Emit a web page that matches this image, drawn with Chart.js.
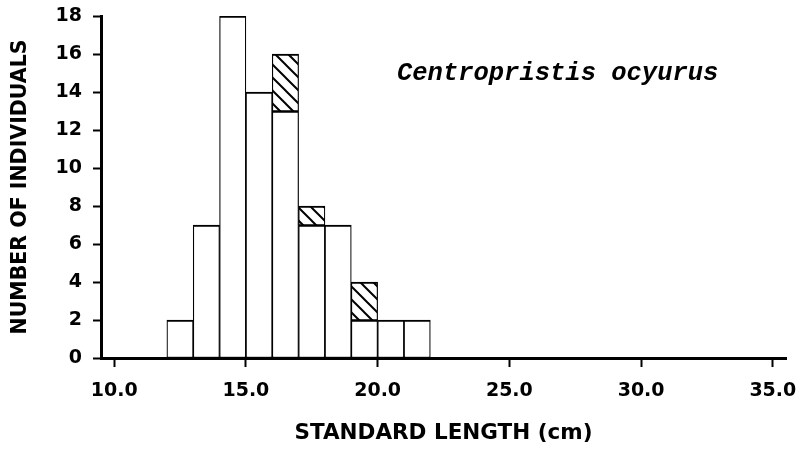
<!DOCTYPE html>
<html>
<head>
<meta charset="utf-8">
<script src="https://cdn.jsdelivr.net/npm/chart.js@4.4.1/dist/chart.umd.min.js"></script>
<style>
html, body { margin: 0; background: #fff; }
</style>
</head>
<body>
<canvas id="chart" width="800" height="450"></canvas>
<script>
// histogram bins (lower edge, cm) and counts
const binStarts = [12, 13, 14, 15, 16, 17, 18, 19, 20, 21];
const plainCounts = [2, 7, 18, 14, 13, 7, 7, 2, 2, 2];
const hatchedCounts = [0, 0, 0, 0, 3, 1, 0, 2, 0, 0];
const xTicks = [10, 15, 20, 25, 30, 35];
const yTicks = [0, 2, 4, 6, 8, 10, 12, 14, 16, 18];
const speciesName = 'Centropristis ocyurus';

const tickFont = { family: 'DejaVu Sans', weight: 'bold', size: 19 };

function makeHatch() {
    const size = 13;
    const c = document.createElement('canvas');
    c.width = size;
    c.height = size;
    const g = c.getContext('2d');
    g.fillStyle = '#fff';
    g.fillRect(0, 0, size, size);
    g.strokeStyle = '#000';
    g.lineWidth = 2;
    g.beginPath();
    g.moveTo(-2, -2); g.lineTo(size + 2, size + 2);
    g.moveTo(-2, size - 2); g.lineTo(2, size + 2);
    g.moveTo(size - 2, -2); g.lineTo(size + 2, 2);
    g.stroke();
    return g.createPattern(c, 'repeat');
}

// species name written in the upper right of the plot
const speciesLabel = {
    id: 'speciesLabel',
    afterDraw(chart) {
        const ctx = chart.ctx;
        ctx.save();
        ctx.font = 'italic bold 25.5px "Liberation Mono"';
        ctx.fillStyle = '#000';
        ctx.textBaseline = 'middle';
        ctx.textAlign = 'left';
        ctx.fillText(speciesName, 397, 74);
        ctx.restore();
    }
};

const barStyle = {
    borderColor: '#000',
    borderWidth: { top: 2, left: 1.2, right: 1.2, bottom: 1 },
    borderSkipped: false,
    barPercentage: 1,
    categoryPercentage: 1
};

const ctx = document.getElementById('chart').getContext('2d');
const chart = new Chart(ctx, {
    type: 'bar',
    data: {
        datasets: [
            Object.assign({
                label: 'plain',
                data: binStarts.map((s, i) => ({ x: s + 0.5, y: plainCounts[i] || null })),
                backgroundColor: '#fff'
            }, barStyle),
            Object.assign({
                label: 'hatched',
                data: binStarts.map((s, i) => ({ x: s + 0.5, y: hatchedCounts[i] || null })),
                backgroundColor: makeHatch()
            }, barStyle)
        ]
    },
    options: {
        responsive: false,
        animation: false,
        layout: { padding: { top: 16, right: 14, left: 0, bottom: 0 } },
        plugins: {
            legend: { display: false },
            tooltip: { enabled: false }
        },
        scales: {
            x: {
                type: 'linear',
                stacked: true,
                offset: false,
                min: 9.5,
                max: 35.5,
                afterBuildTicks: s => { s.ticks = xTicks.map(v => ({ value: v })); },
                afterFit: s => {
                    s.height = 92;
                    s.paddingLeft = 0;
                    s.paddingRight = 0;
                },
                border: { display: true, color: '#000', width: 3 },
                grid: { offset: false, drawOnChartArea: false, drawTicks: true, tickLength: 9, tickColor: '#000', tickWidth: 2 },
                ticks: {
                    color: '#000',
                    font: tickFont,
                    padding: 13,
                    maxRotation: 0,
                    callback: v => Number(v).toFixed(1)
                },
                title: {
                    display: true,
                    text: 'STANDARD LENGTH (cm)',
                    color: '#000',
                    font: { family: 'DejaVu Sans', weight: 'bold', size: 21.5 },
                    padding: { top: 4, bottom: 4 }
                }
            },
            y: {
                stacked: true,
                min: 0,
                max: 18,
                afterBuildTicks: s => { s.ticks = yTicks.map(v => ({ value: v })); },
                afterFit: s => {
                    s.width = 101;
                    s.paddingTop = 0;
                    s.paddingBottom = 0;
                },
                border: { display: true, color: '#000', width: 3 },
                grid: { drawOnChartArea: false, drawTicks: true, tickLength: 8, tickColor: '#000', tickWidth: 2 },
                ticks: { color: '#000', font: tickFont, padding: 11 },
                title: {
                    display: true,
                    text: 'NUMBER OF INDIVIDUALS',
                    color: '#000',
                    font: { family: 'DejaVu Sans', weight: 'bold', size: 20.5 },
                    padding: { top: 8, bottom: 0 }
                }
            }
        }
    },
    plugins: [speciesLabel]
});
</script>
</body>
</html>
